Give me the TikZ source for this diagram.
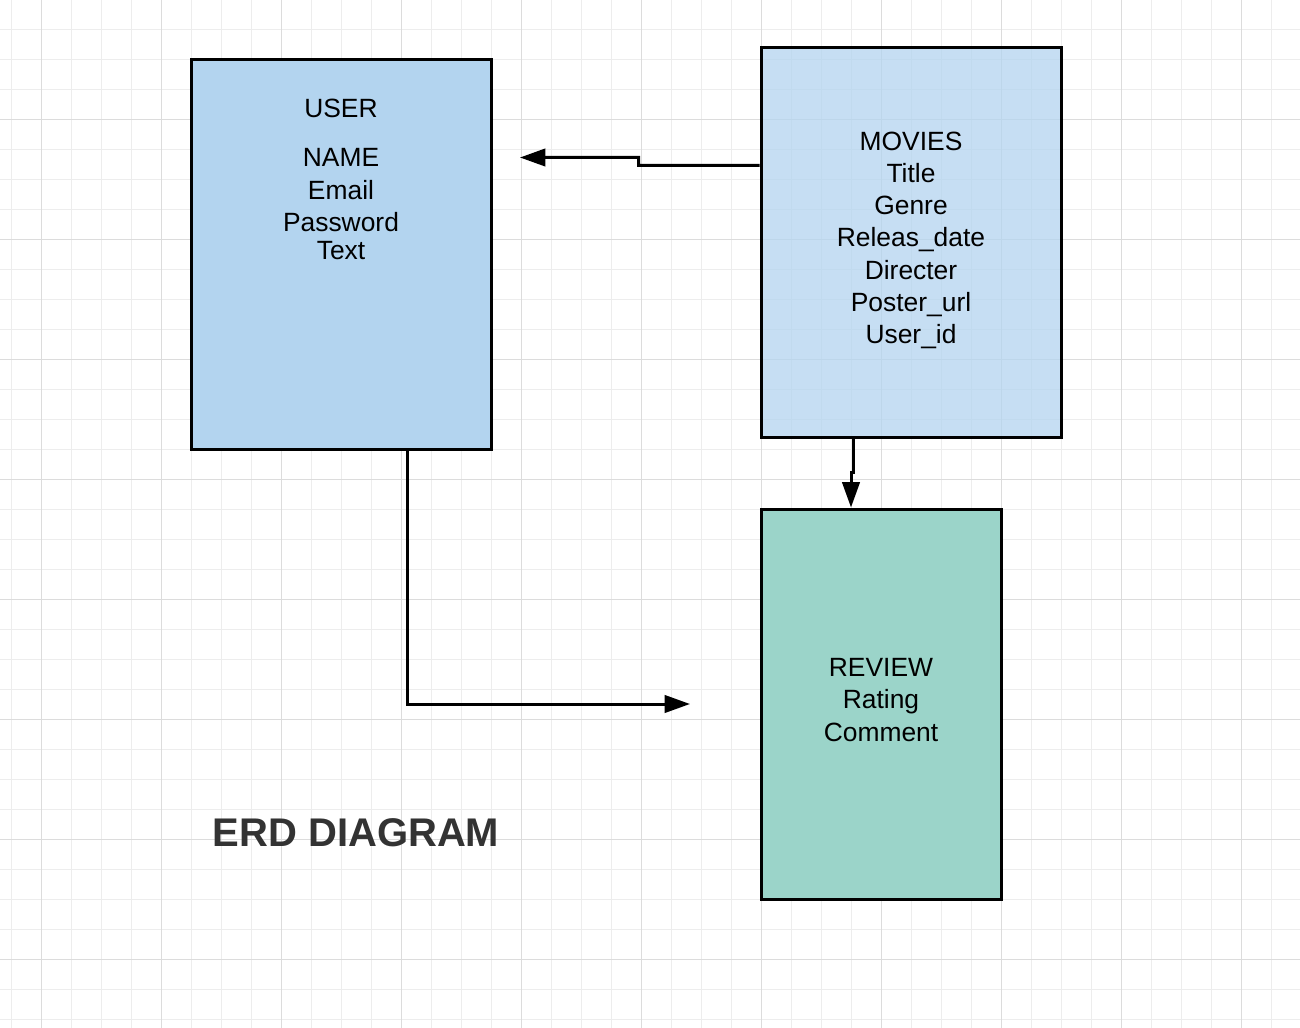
\documentclass[tikz,border=0pt]{standalone}
\usepackage{fontspec}
\setmainfont{Liberation Sans}
\usetikzlibrary{arrows.meta}
\definecolor{gridminor}{HTML}{EDEDED}
\definecolor{gridmajor}{HTML}{DCDCDC}
\definecolor{userblue}{HTML}{B3D4EF}
\definecolor{reviewgreen}{HTML}{9BD4C9}
\definecolor{titlegray}{HTML}{333333}
\begin{document}
\begin{tikzpicture}[x=0.75pt,y=-0.75pt,
  entity/.style={draw=black,line width=2.25pt,minimum width=225pt,minimum height=292.5pt,inner sep=0pt},
  attr/.style={font=\fontsize{19.8}{23}\selectfont,anchor=base,inner sep=0pt},
  link/.style={line width=2.25pt,-{Triangle[length=19pt,width=13pt]}},
  minorline/.style={gridminor,line width=0.75pt},
  majorline/.style={gridmajor,line width=0.75pt}]
\fill[white] (0,0) rectangle (1300,1028);
\useasboundingbox (0,0) rectangle (1300,1028);
% grid
\foreach \x in {11.7,41.7,...,1295} \draw[minorline] (\x,0) -- (\x,1028);
\foreach \y in {29.3,59.3,...,1025} \draw[minorline] (0,\y) -- (1300,\y);
\foreach \x in {41.7,161.7,...,1295} \draw[majorline] (\x,0) -- (\x,1028);
\foreach \y in {119.3,239.3,...,1025} \draw[majorline] (0,\y) -- (1300,\y);
% entities
\node[entity,fill=userblue] (user) at (341,254) {};
\node[entity,fill=userblue,fill opacity=0.75] (movies) at (911,242) {};
\node[entity,fill=reviewgreen,minimum width=180pt] (review) at (881,704) {};
% texts
\foreach \t/\y [count=\i] in {USER/117,NAME/166.5,Email/199,Password/231.5,Text/259}
  \node[attr] (u\i) at (341,\y) {\t};
\foreach \t/\y [count=\i] in {MOVIES/150,Title/182.3,Genre/214.5,Releas\_date/246.7,Directer/279,Poster\_url/311.2,User\_id/343.4}
  \node[attr] (m\i) at (911,\y) {\t};
\foreach \t/\y [count=\i] in {REVIEW/676,Rating/708.5,Comment/741}
  \node[attr] (r\i) at (881,\y) {\t};
\node[font=\fontsize{30}{35}\selectfont\bfseries,text=titlegray,anchor=base,inner sep=0pt] (title) at (356,846) {ERD DIAGRAM};
% connectors
\coordinate (t1) at (520,157.5);
\coordinate (t3) at (690,704);
\draw[link] ([yshift=57.4pt]movies.west) -- ++(-121,0) -- ++(0,-8) -- (t1);
\draw[link] ([xshift=-43.5pt]movies.south) -- ++(0,34) -| ([xshift=-22.5pt]review.north);
\draw[link] ([xshift=49.5pt]user.south) |- (t3);
\end{tikzpicture}
\end{document}
